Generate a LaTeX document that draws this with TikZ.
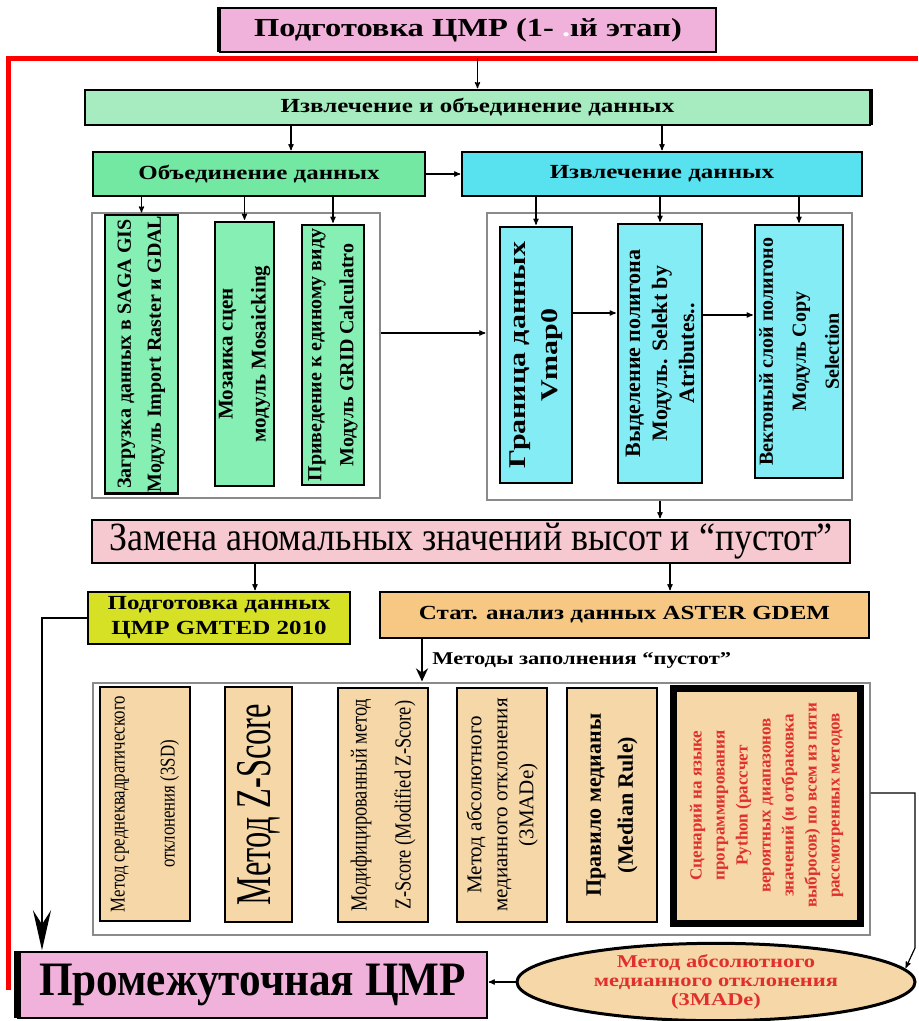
\documentclass[tikz,border=0pt]{standalone}
\usepackage{fontspec}
\setmainfont{Liberation Serif}
\newfontfamily\wideserif[FakeStretch=1.25]{Liberation Serif}
\newfontfamily\mediumserif[FakeStretch=0.9]{Liberation Serif}
\newfontfamily\narrowserif[FakeStretch=0.8]{Liberation Serif}
\newfontfamily\slimserif[FakeStretch=0.65]{Liberation Serif}
\usetikzlibrary{arrows,arrows.meta,positioning,shapes.geometric}

\definecolor{titlepink}{HTML}{F0B2DA}
\definecolor{lightgreen}{HTML}{A6ECC0}
\definecolor{midgreen}{HTML}{72E8A2}
\definecolor{skycyan}{HTML}{58E2F0}
\definecolor{boxgreen}{HTML}{86EFB4}
\definecolor{boxcyan}{HTML}{84ECF4}
\definecolor{rosepink}{HTML}{F6C8D0}
\definecolor{limeyellow}{HTML}{D6E024}
\definecolor{orangetan}{HTML}{F6C883}
\definecolor{sandtan}{HTML}{F5D7A8}
\definecolor{textred}{HTML}{E0302C}
\definecolor{framegrey}{HTML}{8A8A8A}

\begin{document}
\begin{tikzpicture}[x=1pt,y=-1pt,>=stealth',shorten >=1pt,line width=1.2pt,
 hbox/.style={draw,line width=1.5pt,align=center,inner sep=2pt},
 vbox/.style={draw,line width=2.5pt,rotate=90,align=center,inner sep=1pt},
 frame/.style={draw=framegrey,line width=1.2pt},
 bigtip/.style={-{Stealth[length=40pt,width=18pt,inset=14pt]},line width=2.2pt},
 midtip/.style={-{Stealth[length=13pt,width=12pt]},line width=2pt}]
 \useasboundingbox (0,0) rectangle (919,1021);

 \coordinate (redB) at (8,990);
 \coordinate (redT) at (8,58);
 \coordinate (redR) at (919,58);
 \coordinate (ab) at (291,0);
 \coordinate (mid1) at (0,333);
 \coordinate (mid2) at (0,313);
 \coordinate (mid3) at (0,315);
 \coordinate (de) at (255,0);
 \coordinate (df) at (670,0);
 \coordinate (fm) at (422,0);
 \coordinate (eh) at (42,0);
 \coordinate (r1) at (915,793);
 \coordinate (r2) at (915,948);

 \node[frame,minimum width=288pt,minimum height=285pt] (cont1) at (236,355.5) {};
 \node[frame,minimum width=365pt,minimum height=287pt] (cont2) at (669.5,356.5) {};
 \node[frame,minimum width=777pt,minimum height=252pt] (cont3) at (481.5,809) {};

 \node[hbox,fill=titlepink,minimum width=496pt,minimum height=44pt,
  font=\wideserif\bfseries\fontsize{26}{30}\selectfont] (title) at (468,30)
  {Подготовка ЦМР (1- {\color{white}.}ıй этап)};
 \node[hbox,fill=lightgreen,minimum width=785pt,minimum height=35pt,
  font=\wideserif\bfseries\fontsize{20}{24}\selectfont] (A) at (477.5,107.5)
  {Извлечение и объединение данных};
 \node[hbox,fill=midgreen,minimum width=332pt,minimum height=44pt,
  font=\wideserif\bfseries\fontsize{20}{24}\selectfont] (B) at (259,174)
  {Объединение данных};
 \node[hbox,fill=skycyan,minimum width=400pt,minimum height=44pt,
  font=\wideserif\bfseries\fontsize{20}{24}\selectfont] (C) at (662,174)
  {Извлечение данных};

 \node[vbox,fill=boxgreen,minimum width=268pt,minimum height=73pt,
  font=\bfseries\fontsize{20}{30}\selectfont] (g1) at (141.5,354)
  {Загрузка данных в SAGA GIS\\Модуль Import Raster и GDAL};
 \node[vbox,fill=boxgreen,minimum width=264pt,minimum height=59pt,
  font=\bfseries\fontsize{21}{33}\selectfont] (g2) at (244.5,354)
  {Мозаика сцен\\модуль Mosaicking};
 \node[vbox,fill=boxgreen,minimum width=260pt,minimum height=62pt,
  font=\bfseries\fontsize{20}{32}\selectfont] (g3) at (333,355)
  {Приведение к единому виду\\Модуль GRID Calculatro};

 \node[vbox,fill=boxcyan,minimum width=256pt,minimum height=72pt,
  font=\wideserif\bfseries\fontsize{24}{32}\selectfont] (c1) at (536,355)
  {Граница данных\\Vmap0};
 \node[vbox,fill=boxcyan,minimum width=259pt,minimum height=84pt,
  font=\bfseries\fontsize{22}{27}\selectfont] (c2) at (660,353.5)
  {Выделение полигона\\Модуль. Selekt by\\Atributes..};
 \node[vbox,fill=boxcyan,minimum width=253pt,minimum height=88pt,
  font=\bfseries\fontsize{20}{33}\selectfont] (c3) at (799,351.5)
  {Вектоный слой полигоно\\Модуль Copy\\Selection};

 \node[hbox,fill=rosepink,minimum width=758pt,minimum height=43pt,inner sep=0pt,
  font=\mediumserif\fontsize{40}{42}\selectfont] (D) at (471,541.5)
  {Замена аномальных значений высот и “пустот”};
 \node[hbox,fill=limeyellow,minimum width=262pt,minimum height=52pt,
  font=\wideserif\bfseries\fontsize{20}{25}\selectfont] (E) at (219,618)
  {Подготовка данных\\ЦМР GMTED 2010};
 \node[hbox,fill=orangetan,minimum width=489pt,minimum height=46pt,
  font=\wideserif\bfseries\fontsize{20}{24}\selectfont] (F) at (624.5,615)
  {Стат. анализ данных ASTER GDEM};

 \node[vbox,fill=sandtan,minimum width=234pt,minimum height=90pt,
  font=\narrowserif\fontsize{21}{50}\selectfont] (t1) at (145,804)
  {Метод среднеквадратического\\отклонения (3SD)};
 \node[vbox,fill=sandtan,minimum width=235pt,minimum height=67pt,
  font=\slimserif\fontsize{50}{50}\selectfont] (t2) at (258.5,804.5)
  {Метод Z-Score};
 \node[vbox,fill=sandtan,minimum width=234pt,minimum height=90pt,
  font=\narrowserif\fontsize{23}{44}\selectfont] (t3) at (383,805)
  {Модифицированный метод\\Z-Score (Modified Z-Score)};
 \node[vbox,fill=sandtan,minimum width=234pt,minimum height=90pt,
  font=\fontsize{21}{26}\selectfont] (t4) at (502,805)
  {Метод абсолютного\\медианного отклонения\\(3MADe)};
 \node[vbox,fill=sandtan,minimum width=234pt,minimum height=90pt,
  font=\bfseries\fontsize{22}{32}\selectfont] (t5) at (612,805)
  {Правило медианы\\(Median Rule)};
 \node[vbox,fill=sandtan,line width=7pt,minimum width=235pt,minimum height=187pt,
  text=textred,font=\bfseries\fontsize{17}{23}\selectfont] (t6) at (766.5,805.5)
  {Сценарий на языке\\программирования\\Python (рассчет\\вероятных диапазонов\\значений (и отбраковка\\выбросов) по всем из пяти\\рассмотренных методов};

 \node[ellipse,draw,line width=3pt,fill=sandtan,inner sep=0pt,
  minimum width=398pt,minimum height=74pt,align=center,text=textred,
  font=\wideserif\bfseries\fontsize{18}{19}\selectfont] (G) at (716,982)
  {Метод абсолютного\\медианного отклонения\\(3MADe)};
 \node[hbox,fill=titlepink,minimum width=469pt,minimum height=66pt,
  font=\mediumserif\bfseries\fontsize{48}{52}\selectfont] (H) at (252.5,985)
  {Промежуточная ЦМР};

 \draw[line width=4pt] (title.north west) -- (title.south west);
 \draw[line width=4pt] (A.north east) -- (A.south east);
 \draw[line width=7pt] (H.north west) -- (H.south west);
 \draw[red,line width=5pt] (redB) -- (redT) -- (redR);

 \draw[->] (A.north |- redT) -- (A.north);
 \draw[->] (A.south -| ab) -- (B.north -| ab);
 \draw[->] (A.south -| C.north) -- (C.north);
 \draw[->] (B) -- (C);
 \foreach \n in {g1,g2,g3} \draw[->] (B.south -| \n.east) -- (\n.east);
 \foreach \n in {c1,c2,c3} \draw[->] (C.south -| \n.east) -- (\n.east);
 \draw[->] (cont1.east |- mid1) -- (cont2.west |- mid1);
 \draw[->] (c1.south |- mid2) -- (c2.north |- mid2);
 \draw[->] (c2.south |- mid3) -- (c3.north |- mid3);
 \draw[->] (cont2.south -| c2.west) -- (D.north -| c2.west);
 \draw[->] (D.south -| de) -- (E.north -| de);
 \draw[->] (D.south -| df) -- (F.north -| df);
 \draw[midtip] (F.south -| fm) -- (cont3.north -| fm)
  node[midway,right=6pt,font=\wideserif\bfseries\fontsize{18}{20}\selectfont] (gaps)
  {Методы заполнения “пустот”};
 \draw[bigtip] (E.west) -| (eh |- H.north);
 \draw[->] (cont3.east |- r1) -- (r1) -- (r2) -- (G.4);
 \draw[->] (G.west) -- (H.east |- G.west);
\end{tikzpicture}
\end{document}
